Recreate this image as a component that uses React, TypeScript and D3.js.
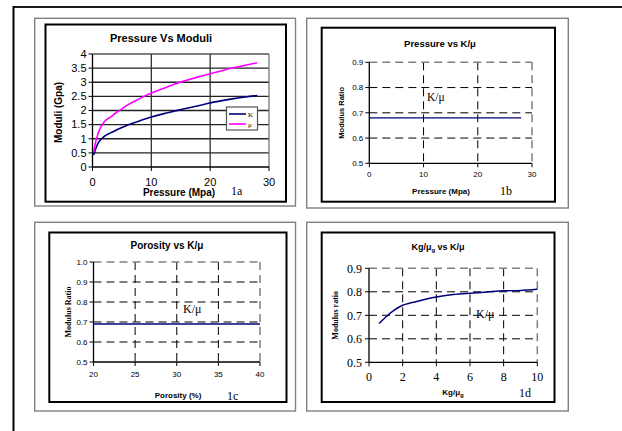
import React from "react";
import * as d3 from "d3";

// ---------- DATA ----------
// 1a: Pressure vs Moduli
const pressureA = [0.2, 0.5, 1, 2, 3, 4, 5, 6, 8, 10, 12, 14, 16, 18, 20, 22, 24, 26, 28];
const moduliK = [0.42, 0.62, 0.86, 1.08, 1.2, 1.3, 1.4, 1.49, 1.63, 1.77, 1.88, 1.98, 2.08, 2.17, 2.27, 2.35, 2.42, 2.48, 2.53];
const moduliMu = [0.54, 0.85, 1.22, 1.6, 1.76, 1.92, 2.06, 2.2, 2.42, 2.62, 2.78, 2.94, 3.07, 3.19, 3.3, 3.41, 3.51, 3.6, 3.69];
const yTicksA = [0, 0.5, 1, 1.5, 2, 2.5, 3, 3.5, 4];
const xTicksA = [0, 10, 20, 30];

// 1b: Pressure vs K/mu
const pressureB = [0, 28];
const ratioB = [0.68, 0.68];
const yTicksB = [0.5, 0.6, 0.7, 0.8, 0.9];
const xTicksB = [0, 10, 20, 30];

// 1c: Porosity vs K/mu
const porosityC = [20, 40];
const ratioC = [0.69, 0.69];
const yTicksC = [0.5, 0.6, 0.7, 0.8, 0.9, 1.0];
const xTicksC = [20, 25, 30, 35, 40];

// 1d: Kg/mug vs K/mu
const kgD = [0.6, 1, 1.5, 2, 2.5, 3, 4, 5, 6, 7, 8, 9, 10];
const ratioD = [0.665, 0.693, 0.722, 0.743, 0.753, 0.762, 0.778, 0.788, 0.794, 0.799, 0.804, 0.806, 0.811];
const yTicksD = [0.5, 0.6, 0.7, 0.8, 0.9];
const xTicksD = [0, 2, 4, 6, 8, 10];

const SANS = "'Liberation Sans', Arial, sans-serif";
const SERIF = "'Liberation Serif', 'Times New Roman', serif";
const NAVY = "#00007f";
const MAGENTA = "#ff00ff";

type Frame = { gx0: number; gx1: number; gy0: number; gy1: number; ix0: number; ix1: number; iy0: number; iy1: number };

function Frames({ f }: { f: Frame }) {
  return (
    <g>
      <rect x={f.gx0} y={f.gy0} width={f.gx1 - f.gx0} height={f.gy1 - f.gy0} fill="#fff" stroke="#808080" strokeWidth={1.4} />
      <rect x={f.ix0} y={f.iy0} width={f.ix1 - f.ix0} height={f.iy1 - f.iy0} fill="#fff" stroke="#000" strokeWidth={2} />
    </g>
  );
}

type AxisProps = {
  x: d3.ScaleLinear<number, number>;
  y: d3.ScaleLinear<number, number>;
  xTicks: number[];
  yTicks: number[];
  fmtY: (v: number) => string;
  font: string;
  size: number;
  xLabelDy: number;
  yLabelDx: number;
};

function Axes({ x, y, xTicks, yTicks, fmtY, font, size, xLabelDy, yLabelDx }: AxisProps) {
  const [x0, x1] = x.range();
  const [yb, yt] = y.range();
  return (
    <g>
      <line x1={x0} x2={x0} y1={yt} y2={yb} stroke="#000" strokeWidth={1.3} />
      <line x1={x0} x2={x1} y1={yb} y2={yb} stroke="#000" strokeWidth={1.3} />
      {yTicks.map((t) => (
        <g key={"y" + t}>
          <line x1={x0 - 4} x2={x0} y1={y(t)} y2={y(t)} stroke="#000" strokeWidth={1} />
          <text x={x0 - yLabelDx} y={y(t)} dy="0.35em" textAnchor="end" fontFamily={font} fontSize={size}>
            {fmtY(t)}
          </text>
        </g>
      ))}
      {xTicks.map((t) => (
        <g key={"x" + t}>
          <line x1={x(t)} x2={x(t)} y1={yb} y2={yb + 4} stroke="#000" strokeWidth={1} />
          <text x={x(t)} y={yb + xLabelDy} textAnchor="middle" fontFamily={font} fontSize={size}>
            {t}
          </text>
        </g>
      ))}
    </g>
  );
}

function DashedGrid({ x, y, xTicks, yTicks }: { x: d3.ScaleLinear<number, number>; y: d3.ScaleLinear<number, number>; xTicks: number[]; yTicks: number[] }) {
  const [x0, x1] = x.range();
  const [yb, yt] = y.range();
  const xd = x.domain();
  const yd = y.domain();
  return (
    <g>
      {yTicks.filter((t) => t > yd[0] && t < yd[1]).map((t) => (
        <line key={"gy" + t} x1={x0} x2={x1} y1={y(t)} y2={y(t)} stroke="#000" strokeWidth={1} strokeDasharray="8,5" />
      ))}
      {xTicks.filter((t) => t > xd[0] && t < xd[1]).map((t) => (
        <line key={"gx" + t} x1={x(t)} x2={x(t)} y1={yt} y2={yb} stroke="#000" strokeWidth={1} strokeDasharray="8,5" />
      ))}
      <line x1={x0} x2={x1} y1={yt} y2={yt} stroke="#808080" strokeWidth={1.5} strokeDasharray="8,5" />
      <line x1={x1} x2={x1} y1={yt} y2={yb} stroke="#808080" strokeWidth={1.5} strokeDasharray="8,5" />
    </g>
  );
}

function curve(xs: number[], ys: number[], x: d3.ScaleLinear<number, number>, y: d3.ScaleLinear<number, number>) {
  const pts = xs.map((v, i) => [v, ys[i]] as [number, number]);
  return d3.line<[number, number]>().x((d) => x(d[0])).y((d) => y(d[1])).curve(d3.curveMonotoneX)(pts) || "";
}

export default function App() {
  // Panel 1a
  const fA: Frame = { gx0: 34.7, gx1: 295.5, gy0: 18.3, gy1: 206, ix0: 45.5, ix1: 286, iy0: 24.5, iy1: 201.7 };
  const xA = d3.scaleLinear().domain([0, 30]).range([92.5, 269]);
  const yA = d3.scaleLinear().domain([0, 4]).range([167, 54]);

  // Panel 1b
  const fB: Frame = { gx0: 306.7, gx1: 568.3, gy0: 18.3, gy1: 208, ix0: 321.7, ix1: 555, iy0: 27.7, iy1: 201.7 };
  const xB = d3.scaleLinear().domain([0, 30]).range([369.3, 532]);
  const yB = d3.scaleLinear().domain([0.5, 0.9]).range([163.3, 62.3]);

  // Panel 1c
  const fC: Frame = { gx0: 34.7, gx1: 295.5, gy0: 222.3, gy1: 411, ix0: 49.3, ix1: 286.5, iy0: 232.5, iy1: 402 };
  const xC = d3.scaleLinear().domain([20, 40]).range([93.5, 260]);
  const yC = d3.scaleLinear().domain([0.5, 1.0]).range([362, 262]);

  // Panel 1d
  const fD: Frame = { gx0: 306.7, gx1: 568.3, gy0: 222.3, gy1: 411, ix0: 321.7, ix1: 554.5, iy0: 232.5, iy1: 402 };
  const xD = d3.scaleLinear().domain([0, 10]).range([369, 537.3]);
  const yD = d3.scaleLinear().domain([0.5, 0.9]).range([362.3, 268.3]);

  const fmt1 = d3.format(".1f");
  const fmtA = (v: number) => String(v);

  return (
    <svg width={622} height={431} style={{ position: "absolute", left: 0, top: 0, background: "#fff" }}>
      <rect x={0} y={0} width={622} height={431} fill="#fff" />
      {/* page border */}
      <line x1={13.5} x2={622} y1={7} y2={7} stroke="#1a1a1a" strokeWidth={2} />
      <line x1={13.5} x2={13.5} y1={6} y2={431} stroke="#000" strokeWidth={2} />

      {/* ---------- 1a ---------- */}
      <Frames f={fA} />
      <text x={161} y={42} textAnchor="middle" fontFamily={SANS} fontWeight="bold" fontSize={11}>Pressure Vs Moduli</text>
      {yTicksA.filter((t) => t > 0).map((t) => (
        <line key={"ga" + t} x1={xA(0)} x2={xA(30)} y1={yA(t)} y2={yA(t)} stroke={t === 4 ? "#555" : "#222"} strokeWidth={1.3} />
      ))}
      {[10, 20].map((t) => (
        <line key={"gva" + t} x1={xA(t)} x2={xA(t)} y1={yA(4)} y2={yA(0)} stroke="#333" strokeWidth={1.3} />
      ))}
      <line x1={xA(30)} x2={xA(30)} y1={yA(4)} y2={yA(0)} stroke="#777" strokeWidth={1.3} />
      <Axes x={xA} y={yA} xTicks={xTicksA} yTicks={yTicksA} fmtY={fmtA} font={SANS} size={11} xLabelDy={19} yLabelDx={6} />
      <path d={curve(pressureA, moduliK, xA, yA)} fill="none" stroke={NAVY} strokeWidth={1.6} />
      <path d={curve(pressureA, moduliMu, xA, yA)} fill="none" stroke={MAGENTA} strokeWidth={1.6} />
      <g>
        <rect x={226.5} y={107} width={31} height={23} fill="#fff" stroke="#555" strokeWidth={1.2} />
        <line x1={229} x2={246} y1={114} y2={114} stroke={NAVY} strokeWidth={1.6} />
        <text x={248} y={116.5} fontFamily={SERIF} fontSize={7}>K</text>
        <line x1={229} x2={246} y1={124} y2={124} stroke={MAGENTA} strokeWidth={1.6} />
        <text x={248} y={126.5} fontFamily={SERIF} fontSize={7}>μ</text>
      </g>
      <text x={179} y={196} textAnchor="middle" fontFamily={SANS} fontWeight="bold" fontSize={10}>Pressure (Mpa)</text>
      <text transform={`translate(62,${(yA(0) + yA(4)) / 2 + 2}) rotate(-90)`} textAnchor="middle" fontFamily={SANS} fontWeight="bold" fontSize={10}>Moduli (Gpa)</text>
      <text x={231} y={195} fontFamily={SERIF} fontSize={12}>1a</text>

      {/* ---------- 1b ---------- */}
      <Frames f={fB} />
      <text x={440} y={47} textAnchor="middle" fontFamily={SANS} fontWeight="bold" fontSize={9.5}>Pressure vs K/μ</text>
      <DashedGrid x={xB} y={yB} xTicks={xTicksB} yTicks={yTicksB} />
      <Axes x={xB} y={yB} xTicks={xTicksB} yTicks={yTicksB} fmtY={fmt1} font={SANS} size={8} xLabelDy={14} yLabelDx={6} />
      <path d={curve(pressureB, ratioB, xB, yB)} fill="none" stroke={NAVY} strokeWidth={1.3} />
      <text x={427} y={101} fontFamily={SERIF} fontSize={11.5}>K/μ</text>
      <text x={441} y={194} textAnchor="middle" fontFamily={SANS} fontWeight="bold" fontSize={8}>Pressure (Mpa)</text>
      <text transform={`translate(344,${(yB(0.5) + yB(0.9)) / 2}) rotate(-90)`} textAnchor="middle" fontFamily={SANS} fontWeight="bold" fontSize={7.5}>Modulus Ratio</text>
      <text x={500} y={195} fontFamily={SERIF} fontSize={12}>1b</text>

      {/* ---------- 1c ---------- */}
      <Frames f={fC} />
      <text x={167} y={249} textAnchor="middle" fontFamily={SANS} fontWeight="bold" fontSize={10}>Porosity vs K/μ</text>
      <DashedGrid x={xC} y={yC} xTicks={xTicksC} yTicks={yTicksC} />
      <Axes x={xC} y={yC} xTicks={xTicksC} yTicks={yTicksC} fmtY={fmt1} font={SANS} size={8} xLabelDy={15} yLabelDx={6} />
      <path d={curve(porosityC, ratioC, xC, yC)} fill="none" stroke={NAVY} strokeWidth={1.5} />
      <text x={183} y={313} fontFamily={SERIF} fontSize={12}>K/μ</text>
      <text x={178} y={398} textAnchor="middle" fontFamily={SANS} fontWeight="bold" fontSize={8}>Porosity (%)</text>
      <text transform={`translate(71,${(yC(0.5) + yC(1.0)) / 2}) rotate(-90)`} textAnchor="middle" fontFamily={SERIF} fontWeight="bold" fontSize={8}>Modulus Ratio</text>
      <text x={227} y={400} fontFamily={SERIF} fontSize={12}>1c</text>

      {/* ---------- 1d ---------- */}
      <Frames f={fD} />
      <text x={438} y={250} textAnchor="middle" fontFamily={SANS} fontWeight="bold" fontSize={9}>
        Kg/μ<tspan fontSize={6} dy={2}>g</tspan><tspan dy={-2}> vs K/μ</tspan>
      </text>
      <DashedGrid x={xD} y={yD} xTicks={xTicksD} yTicks={yTicksD} />
      <Axes x={xD} y={yD} xTicks={xTicksD} yTicks={yTicksD} fmtY={fmt1} font={SERIF} size={12} xLabelDy={19} yLabelDx={7} />
      <path d={curve(kgD, ratioD, xD, yD)} fill="none" stroke={NAVY} strokeWidth={1.5} />
      <text x={476} y={318} fontFamily={SERIF} fontSize={12}>K/μ</text>
      <text x={453} y={395} textAnchor="middle" fontFamily={SANS} fontWeight="bold" fontSize={8}>
        Kg/μ<tspan fontSize={6} dy={2}>g</tspan>
      </text>
      <text transform={`translate(338,${(yD(0.5) + yD(0.9)) / 2}) rotate(-90)`} textAnchor="middle" fontFamily={SERIF} fontWeight="bold" fontSize={8}>Modulus ratio</text>
      <text x={519} y={397} fontFamily={SERIF} fontSize={12}>1d</text>
    </svg>
  );
}
